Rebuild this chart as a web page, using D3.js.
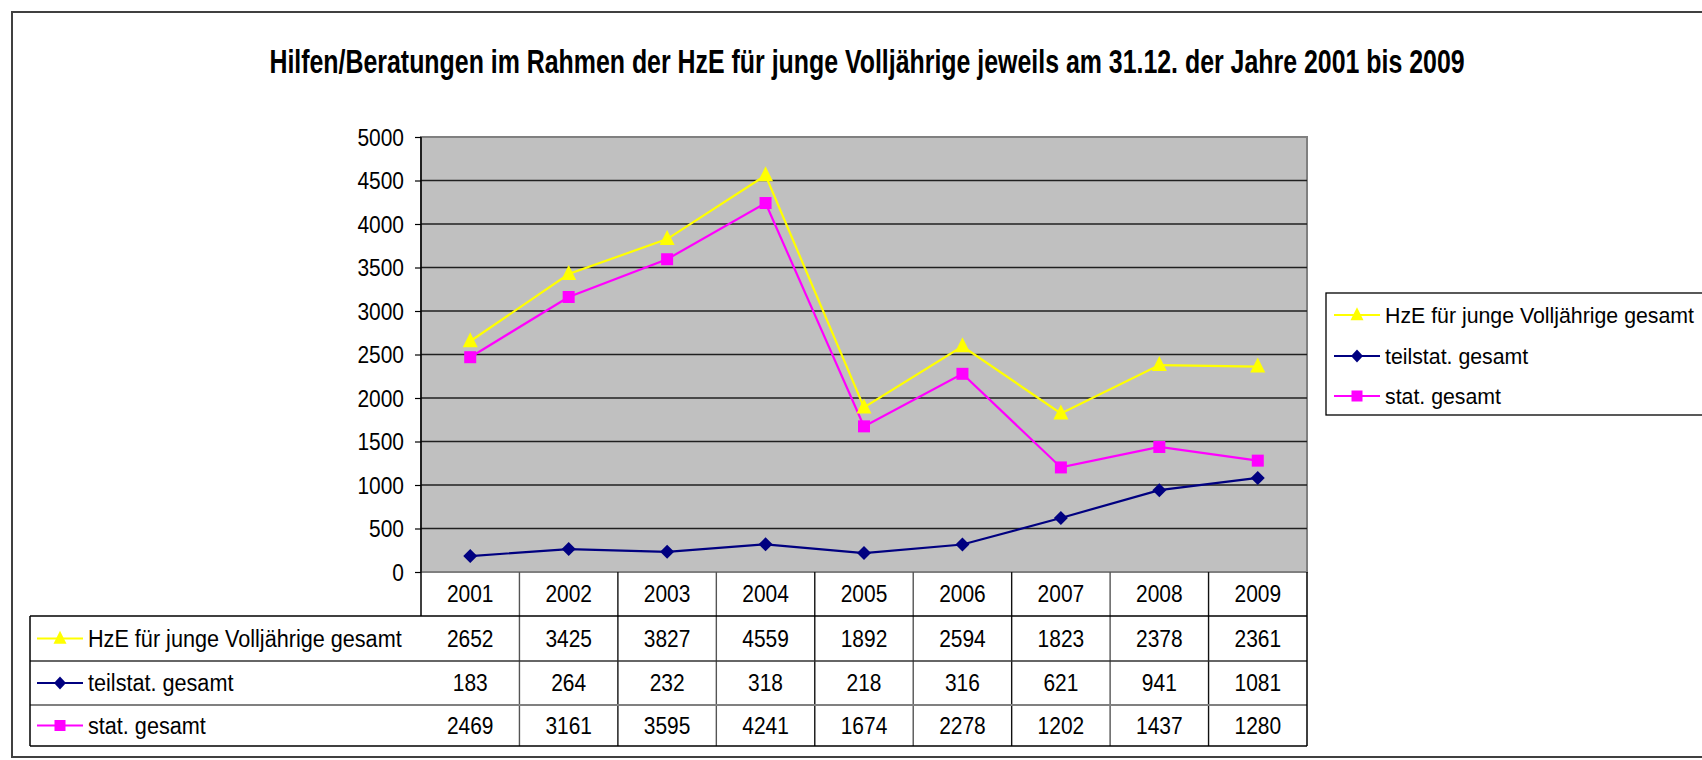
<!DOCTYPE html>
<html>
<head>
<meta charset="utf-8">
<script src="https://cdn.jsdelivr.net/npm/d3@7"></script>
<style>
  html, body { margin: 0; padding: 0; background: #fff; }
  svg { display: block; }
  text { font-family: "Liberation Sans", Arial, sans-serif; fill: #000; }
</style>
</head>
<body>
<svg id="chart" width="1702" height="760"></svg>
<script>
const title = "Hilfen/Beratungen im Rahmen der HzE für junge Volljährige jeweils am 31.12. der Jahre 2001 bis 2009";
const years = ["2001","2002","2003","2004","2005","2006","2007","2008","2009"];
const seriesNames = ["HzE für junge Volljährige gesamt", "teilstat. gesamt", "stat. gesamt"];
const hzeGesamt = [2652, 3425, 3827, 4559, 1892, 2594, 1823, 2378, 2361];
const teilstatGesamt = [183, 264, 232, 318, 218, 316, 621, 941, 1081];
const statGesamt = [2469, 3161, 3595, 4241, 1674, 2278, 1202, 1437, 1280];
const yTicks = [0, 500, 1000, 1500, 2000, 2500, 3000, 3500, 4000, 4500, 5000];

const seriesValues = [hzeGesamt, teilstatGesamt, statGesamt];
const colors = ["#FFFF00", "#000080", "#FF00FF"];
const markers = ["triangle", "diamond", "square"];

const svg = d3.select("#chart");

// condense text horizontally, keeping height
function condense(sel, factor) {
  sel.each(function() {
    const w = this.getComputedTextLength();
    d3.select(this).attr("textLength", w * factor).attr("lengthAdjust", "spacingAndGlyphs");
  });
}

// outer frame
svg.append("rect").attr("x", 12).attr("y", 12).attr("width", 1760).attr("height", 745)
  .attr("fill", "none").attr("stroke", "#404040").attr("stroke-width", 2);

// title: fit to target width, then stretch vertically to target height
const titleG = svg.append("g");
const titleT = titleG.append("text").attr("x", 0).attr("y", 0).attr("text-anchor", "middle")
  .style("font-family", "'Liberation Sans Narrow', 'Liberation Sans', Arial, sans-serif")
  .style("font-weight", "bold").style("font-size", "33px").text(title);
const natW = titleT.node().getComputedTextLength();
const fitSize = 33 * 1196 / natW;
titleT.style("font-size", fitSize + "px");
titleG.attr("transform", `translate(867,73) scale(1,${33 / fitSize})`);

const plot = {left: 421, right: 1307, top: 137, bottom: 572};
const x = d3.scaleBand().domain(years).range([plot.left, plot.right]).paddingInner(0).paddingOuter(0);
const y = d3.scaleLinear().domain([0, 5000]).range([plot.bottom, plot.top]);
const cx = d => x(d) + x.bandwidth() / 2;

// plot background
svg.append("rect").attr("x", plot.left).attr("y", plot.top)
  .attr("width", plot.right - plot.left).attr("height", plot.bottom - plot.top)
  .attr("fill", "#C0C0C0").attr("stroke", "#808080").attr("stroke-width", 2);

// gridlines
svg.append("g").selectAll("line").data(yTicks.filter(t => t > 0 && t < 5000)).join("line")
  .attr("x1", plot.left).attr("x2", plot.right)
  .attr("y1", d => y(d)).attr("y2", d => y(d))
  .attr("stroke", "#202020").attr("stroke-width", 1.4);

// y axis
const yAxis = svg.append("g").attr("transform", `translate(${plot.left},0)`)
  .call(d3.axisLeft(y).tickValues(yTicks).tickFormat(d3.format("d")).tickSize(6).tickPadding(11).tickSizeOuter(0));
yAxis.select(".domain").remove();
yAxis.selectAll(".tick line").attr("stroke", "#000").attr("stroke-width", 1.2);
yAxis.selectAll(".tick text").attr("font-size", null).attr("font-family", null)
  .style("font-size", "23px").style("font-family", "'Liberation Sans', Arial, sans-serif").attr("dy", "0.36em");
condense(yAxis.selectAll(".tick text"), 0.91);
svg.append("line").attr("x1", plot.left).attr("x2", plot.left).attr("y1", plot.top).attr("y2", 616)
  .attr("stroke", "#000").attr("stroke-width", 1.5);

// markers
function drawMarker(g, type, color, w, h) {
  if (type === "triangle") {
    g.append("path").attr("d", `M0,${-h*0.6}L${w/2},${h*0.4}L${-w/2},${h*0.4}Z`).attr("fill", color);
  } else if (type === "diamond") {
    g.append("path").attr("d", `M0,${-h/2}L${w/2},0L0,${h/2}L${-w/2},0Z`).attr("fill", color);
  } else {
    g.append("rect").attr("x", -w/2).attr("y", -h/2).attr("width", w).attr("height", h).attr("fill", color);
  }
}
const plotMarkerSize = [[15, 15], [14, 14], [12, 12]];
const keyMarkerSize = [[13, 13], [12, 13], [11, 11]];

// lines
const line = d3.line().x((d, i) => cx(years[i])).y(d => y(d));
seriesValues.forEach((vals, s) => {
  svg.append("path").datum(vals).attr("d", line).attr("fill", "none")
    .attr("stroke", colors[s]).attr("stroke-width", 2.2);
});
seriesValues.forEach((vals, s) => {
  vals.forEach((v, i) => {
    const g = svg.append("g").attr("transform", `translate(${cx(years[i])},${y(v)})`);
    drawMarker(g, markers[s], colors[s], plotMarkerSize[s][0], plotMarkerSize[s][1]);
  });
});

// data table
const rowsY = [572, 616, 661, 705, 746];
const tableLeft = 30;
const tg = svg.append("g");
years.forEach((yr, i) => {
  if (i > 0) {
    tg.append("line").attr("x1", x(yr)).attr("x2", x(yr)).attr("y1", rowsY[0]).attr("y2", rowsY[4])
      .attr("stroke", i % 2 ? "#555" : "#111").attr("stroke-width", 1.4);
  }
  const t = tg.append("text").attr("x", cx(yr)).attr("y", (rowsY[0] + rowsY[1]) / 2).attr("dy", "0.36em")
    .attr("text-anchor", "middle").style("font-size", "23px").text(yr);
  condense(t, 0.91);
});
tg.append("line").attr("x1", tableLeft).attr("x2", plot.right).attr("y1", rowsY[1]).attr("y2", rowsY[1]).attr("stroke", "#000").attr("stroke-width", 1.5);
tg.append("line").attr("x1", tableLeft).attr("x2", plot.right).attr("y1", rowsY[2]).attr("y2", rowsY[2]).attr("stroke", "#333").attr("stroke-width", 1.4);
tg.append("line").attr("x1", tableLeft).attr("x2", plot.right).attr("y1", rowsY[3]).attr("y2", rowsY[3]).attr("stroke", "#808080").attr("stroke-width", 2);
tg.append("line").attr("x1", tableLeft).attr("x2", plot.right).attr("y1", rowsY[4]).attr("y2", rowsY[4]).attr("stroke", "#000").attr("stroke-width", 1.5);
tg.append("line").attr("x1", tableLeft).attr("x2", tableLeft).attr("y1", rowsY[1]).attr("y2", rowsY[4]).attr("stroke", "#000").attr("stroke-width", 1.5);
tg.append("line").attr("x1", plot.right).attr("x2", plot.right).attr("y1", rowsY[0]).attr("y2", rowsY[4]).attr("stroke", "#000").attr("stroke-width", 1.5);

seriesValues.forEach((vals, s) => {
  const cyRow = (rowsY[s + 1] + rowsY[s + 2]) / 2;
  tg.append("line").attr("x1", 37).attr("x2", 83).attr("y1", cyRow).attr("y2", cyRow)
    .attr("stroke", colors[s]).attr("stroke-width", 2);
  drawMarker(tg.append("g").attr("transform", `translate(60,${cyRow})`), markers[s], colors[s], keyMarkerSize[s][0], keyMarkerSize[s][1]);
  const lab = tg.append("text").attr("x", 88).attr("y", cyRow).attr("dy", "0.36em").style("font-size", "23px").text(seriesNames[s]);
  condense(lab, 0.94);
  vals.forEach((v, i) => {
    const t = tg.append("text").attr("x", cx(years[i])).attr("y", cyRow).attr("dy", "0.36em")
      .attr("text-anchor", "middle").style("font-size", "23px").text(v);
    condense(t, 0.91);
  });
});

// legend
const lg = svg.append("g");
lg.append("rect").attr("x", 1326).attr("y", 293).attr("width", 420).attr("height", 122)
  .attr("fill", "#fff").attr("stroke", "#000").attr("stroke-width", 1.3);
const legendY = [315, 356, 396];
seriesNames.forEach((name, s) => {
  lg.append("line").attr("x1", 1334).attr("x2", 1380).attr("y1", legendY[s]).attr("y2", legendY[s])
    .attr("stroke", colors[s]).attr("stroke-width", 2);
  drawMarker(lg.append("g").attr("transform", `translate(1357,${legendY[s]})`), markers[s], colors[s], keyMarkerSize[s][0], keyMarkerSize[s][1]);
  lg.append("text").attr("x", 1385).attr("y", legendY[s]).attr("dy", "0.36em").style("font-size", "21.3px").text(name);
});
</script>
</body>
</html>
